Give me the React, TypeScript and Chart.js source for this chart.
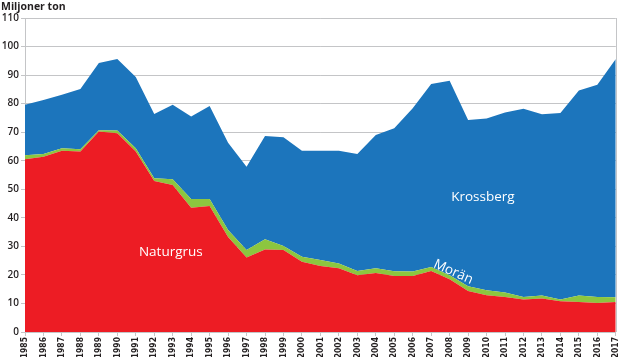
import React, { useEffect, useRef } from "react";
import { Chart, registerables } from "chart.js";

Chart.register(...registerables);

const years = [
  "1985", "1986", "1987", "1988", "1989", "1990", "1991", "1992", "1993", "1994", "1995",
  "1996", "1997", "1998", "1999", "2000", "2001", "2002", "2003", "2004", "2005", "2006",
  "2007", "2008", "2009", "2010", "2011", "2012", "2013", "2014", "2015", "2016", "2017",
];

const naturgrus = [
  60.5, 61.4, 63.5, 63.2, 70.2, 69.6, 63.2, 52.9, 51.5, 43.5, 44.1,
  33.3, 26.1, 28.9, 28.7, 24.6, 23.1, 22.3, 19.9, 20.7, 19.6, 19.6,
  21.4, 18.5, 14.4, 12.9, 12.3, 11.4, 11.7, 10.8, 10.5, 10.2, 10.5,
];

const moran = [
  1.4, 1.0, 0.9, 0.8, 0.5, 1.0, 1.2, 1.0, 2.0, 3.1, 2.5,
  2.4, 2.6, 3.6, 1.4, 1.8, 2.1, 1.7, 1.5, 1.6, 1.7, 1.6,
  1.4, 1.4, 1.6, 1.7, 1.5, 0.9, 1.1, 0.6, 2.3, 2.1, 1.7,
];

const krossberg = [
  17.7, 18.9, 18.7, 21.1, 23.5, 25.0, 24.9, 22.5, 26.1, 28.9, 32.6,
  30.6, 29.2, 36.2, 38.1, 37.1, 38.3, 39.5, 41.0, 46.7, 50.1, 57.2,
  64.1, 68.1, 58.3, 60.2, 63.1, 65.9, 63.5, 65.3, 71.8, 74.3, 83.4,
];

const yAxisTitle = "Miljoner ton";

// In-chart labels: [text, category index, value, rotation in degrees]
const seriesLabels: [string, number, number, number][] = [
  ["Naturgrus", 7.9, 28.1, 0],
  ["Krossberg", 24.8, 47.4, 0],
  ["Morän", 23.2, 21.0, 24],
];

const RED = "#ED1C24";
const GREEN = "#8CC63F";
const BLUE = "#1C75BC";
const GRID = "#C4C5C7";
const TEXT = "#231F20";
const FONT = "'Open Sans', 'Noto Sans', sans-serif";
const NARROW = "'Liberation Sans Narrow', 'DejaVu Sans Condensed', sans-serif";

const overlayPlugin = {
  id: "overlay",
  afterDraw(chart: any) {
    const { ctx, chartArea, scales } = chart;
    ctx.save();
    // right border
    ctx.strokeStyle = GRID;
    ctx.lineWidth = 1;
    ctx.beginPath();
    ctx.moveTo(Math.round(chartArea.right) + 0.5, chartArea.top);
    ctx.lineTo(Math.round(chartArea.right) + 0.5, chartArea.bottom);
    ctx.stroke();
    // axis title
    ctx.fillStyle = TEXT;
    ctx.font = `bold 10.5px ${FONT}`;
    ctx.textAlign = "left";
    ctx.textBaseline = "middle";
    ctx.fillText(yAxisTitle, 1, 7);
    // series labels
    ctx.fillStyle = "#FFFFFF";
    ctx.font = `500 13.5px ${FONT}`;
    ctx.textAlign = "center";
    for (const [text, xi, v, rot] of seriesLabels) {
      const x = scales.x.getPixelForValue(xi);
      const y = scales.y.getPixelForValue(v);
      ctx.save();
      ctx.translate(x, y);
      ctx.rotate((rot * Math.PI) / 180);
      ctx.fillText(text, 0, 0);
      ctx.restore();
    }
    ctx.restore();
  },
};

export default function App() {
  const canvasRef = useRef<HTMLCanvasElement | null>(null);

  useEffect(() => {
    document.body.style.margin = "0";
    const canvas = canvasRef.current;
    if (!canvas) return;
    const chart = new Chart(canvas, {
      type: "line",
      data: {
        labels: years,
        datasets: [
          {
            label: "Naturgrus",
            data: naturgrus,
            backgroundColor: RED,
            borderWidth: 0,
            pointRadius: 0,
            fill: "origin",
          },
          {
            label: "Morän",
            data: moran,
            backgroundColor: GREEN,
            borderWidth: 0,
            pointRadius: 0,
            fill: "-1",
          },
          {
            label: "Krossberg",
            data: krossberg,
            backgroundColor: BLUE,
            borderWidth: 0,
            pointRadius: 0,
            fill: "-1",
          },
        ],
      },
      options: {
        responsive: false,
        animation: false,
        layout: { padding: { top: 18, right: 6, left: 0, bottom: 0 } },
        plugins: {
          legend: { display: false },
          tooltip: { enabled: false },
        },
        scales: {
          x: {
            type: "category",
            offset: false,
            grid: {
              drawOnChartArea: false,
              drawTicks: true,
              tickLength: 4,
              color: GRID,
            },
            border: { color: GRID },
            ticks: {
              autoSkip: false,
              minRotation: 90,
              maxRotation: 90,
              padding: 1,
              color: TEXT,
              font: { family: NARROW, size: 8.5, weight: "bold" },
            },
            afterFit(scale: any) {
              scale.height = 25;
            },
          },
          y: {
            stacked: true,
            min: 0,
            max: 110,
            ticks: {
              stepSize: 10,
              padding: 2,
              color: TEXT,
              font: { family: FONT, size: 10, weight: "600" },
            },
            grid: {
              color: GRID,
              tickLength: 4,
            },
            border: { color: GRID },
            afterFit(scale: any) {
              scale.width = 25;
            },
          },
        },
      },
      plugins: [overlayPlugin],
    });
    return () => chart.destroy();
  }, []);

  return (
    <div style={{ width: 627, height: 357 }}>
      <canvas ref={canvasRef} width={627} height={357} style={{ display: "block" }} />
    </div>
  );
}
